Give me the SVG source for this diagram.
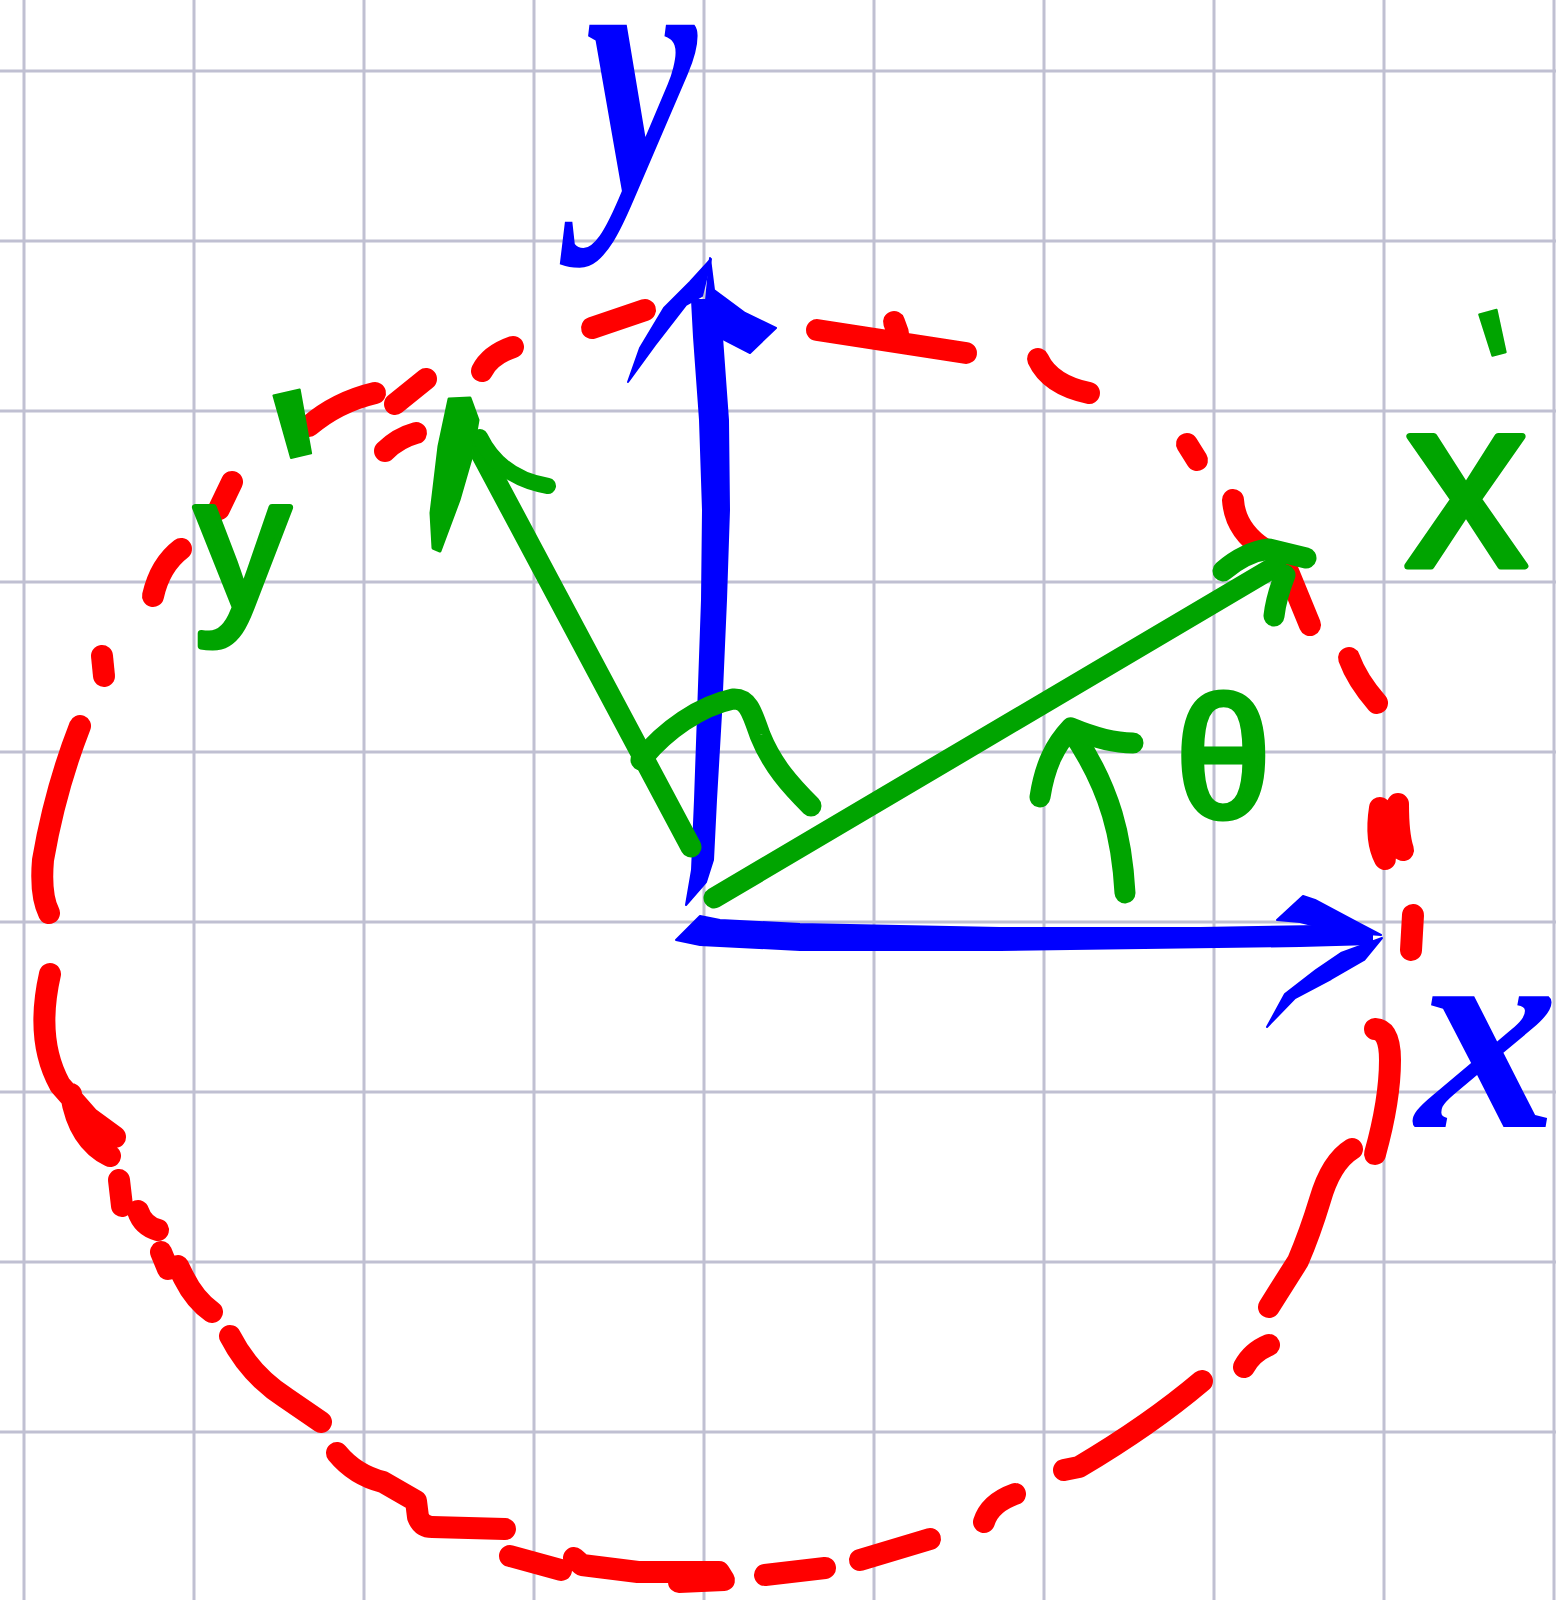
<svg xmlns="http://www.w3.org/2000/svg" width="1556" height="1600" viewBox="0 0 1556 1600">
<style>
.grid line{stroke:#c0c0d2;stroke-width:3}
.red path{fill:none;stroke:#ff0000;stroke-width:22;stroke-linecap:round;stroke-linejoin:round}
.blue{fill:#0000ff;stroke:#0000ff;stroke-width:2;stroke-linejoin:round}
.green path{fill:none;stroke:#00a400;stroke-width:21;stroke-linecap:round;stroke-linejoin:round}
.green .fill{fill:#00a400;stroke:#00a400;stroke-width:3}
.glabel{font-family:"Liberation Sans",Arial,sans-serif;fill:#00a400;stroke:#00a400;stroke-width:7;stroke-linejoin:round}
.prime{stroke-width:2}
.blabel{font-family:"Liberation Serif","Times New Roman",serif;font-style:italic;font-weight:bold;fill:#0000ff}
</style>
<rect width="1556" height="1600" fill="#ffffff"/>
<g id="grid" class="grid">
<line x1="24" y1="0" x2="24" y2="1600"/><line x1="194" y1="0" x2="194" y2="1600"/><line x1="364" y1="0" x2="364" y2="1600"/><line x1="534" y1="0" x2="534" y2="1600"/><line x1="704" y1="0" x2="704" y2="1600"/><line x1="874" y1="0" x2="874" y2="1600"/><line x1="1044" y1="0" x2="1044" y2="1600"/><line x1="1214" y1="0" x2="1214" y2="1600"/><line x1="1384" y1="0" x2="1384" y2="1600"/><line x1="1554" y1="0" x2="1554" y2="1600"/>
<line x1="0" y1="71" x2="1556" y2="71"/><line x1="0" y1="241" x2="1556" y2="241"/><line x1="0" y1="411" x2="1556" y2="411"/><line x1="0" y1="582" x2="1556" y2="582"/><line x1="0" y1="752" x2="1556" y2="752"/><line x1="0" y1="922" x2="1556" y2="922"/><line x1="0" y1="1092" x2="1556" y2="1092"/><line x1="0" y1="1262" x2="1556" y2="1262"/><line x1="0" y1="1432" x2="1556" y2="1432"/>
</g>
<g id="circle" class="red">
<path d="M592,328 L645,310"/>
<path d="M482,371 Q490,355 513,347"/>
<path d="M395,404 L426,379"/>
<path d="M309,426 Q337,402 375,393"/>
<path d="M385,451 Q398,438 416,433"/>
<path d="M219,509 L232,482"/>
<path d="M153,596 Q160,565 181,549"/>
<path d="M102,656 L104,676"/>
<path d="M80,726 Q55,790 43,860 Q40,895 49,913"/>
<path d="M50,974 Q35,1040 60,1085 L89,1118 L115,1137 M71,1094 Q78,1140 110,1156"/>
<path d="M119,1180 L122,1206 M138,1211 Q143,1226 158,1230"/>
<path d="M161,1252 L168,1269 L178,1266 L184,1278 Q195,1300 212,1312"/>
<path d="M230,1336 Q250,1375 286,1398 L321,1422"/>
<path d="M337,1453 Q355,1475 383,1482 L416,1501 L418,1517 Q422,1527 432,1527 L505,1529"/>
<path d="M510,1556 L561,1570"/>
<path d="M574,1558 L582,1565 L638,1572 L719,1572 L724,1580 L679,1582"/>
<path d="M765,1575 L825,1568"/>
<path d="M860,1560 L930,1539"/>
<path d="M984,1522 Q990,1503 1015,1494"/>
<path d="M1064,1470 L1079,1467 Q1150,1425 1202,1381"/>
<path d="M1244,1367 Q1252,1352 1269,1345"/>
<path d="M1269,1307 L1298,1261 Q1310,1233 1320,1200 Q1331,1162 1352,1149"/>
<path d="M1375,1154 Q1390,1100 1390,1060 Q1390,1030 1375,1029"/>
<path d="M1413,915 L1411,950"/>
<path d="M1380,808 Q1375,840 1385,859 M1398,804 Q1398,835 1403,850"/>
<path d="M1349,658 Q1357,680 1377,703"/>
<path d="M1287,569 L1310,625"/>
<path d="M1233,500 Q1235,530 1264,549"/>
<path d="M1187,444 L1197,460"/>
<path d="M1038,359 Q1050,385 1089,393"/>
<path d="M817,330 L966,353 M894,322 L898,333"/>
</g>
<g id="axis-y" class="blue">
<path d="M686,905 L692,870 L695,800 L698,714 L702,600 L703,510 L700,420 L694,337 L692,300 L718,300 L722,337 L728,420 L729,510 L726,600 L721,714 L716,800 L713,860 L706,882 Z"/>
<path d="M710,258 L714,290 L745,313 L776,328 L750,353 L719,337 L706,300 Z"/>
<path d="M711,259 L690,282 L664,308 L640,348 L628,382 L655,345 L686,305 L702,296 Z"/>
</g>
<g id="axis-x" class="blue">
<path d="M676,940 L700,916 L720,920 L800,924 L1000,928 L1200,928 L1320,926 L1372,931 L1372,944 L1300,946 L1000,950 L800,950 L700,945 Z"/>
<path d="M1277,920 L1303,896 L1315,900 L1360,924 L1381,935 L1340,932 L1300,922 Z"/>
<path d="M1382,938 L1364,960 L1331,979 L1295,998 L1267,1027 L1285,994 L1316,970 L1341,953 Z"/>
</g>
<g id="axis-x-prime" class="green">
<path d="M714,898 L1276,566"/>
<path d="M1223,571 Q1245,552 1269,549 L1306,558"/>
<path d="M1285,575 Q1276,598 1274,616"/>
</g>
<g id="axis-y-prime" class="green">
<path d="M691,847 L474,440"/>
<path class="fill" d="M449,399 L470,398 L478,420 L472,455 L459,500 L440,551 L433,548 L431,513 L439,446 Z"/>
<path d="M480,437 Q500,478 548,486" style="stroke-width:16"/>
</g>
<g id="right-angle" class="green">
<path d="M641,760 C665,730 700,706 733,699 C748,698 752,712 760,735 C772,765 790,785 811,806"/>
</g>
<g id="theta-arc" class="green">
<path d="M1125,893 C1122,840 1112,790 1071,730"/>
<path d="M1040,797 C1045,765 1055,745 1071,728 C1095,738 1115,743 1133,743"/>
</g>
<g id="labels">
<text class="blabel" transform="translate(585,190) scale(0.7,1)" font-size="360">y</text>
<text class="blabel" x="1416" y="1127" font-size="285">x</text>
<text class="glabel" x="1405" y="566" font-size="245">x<tspan class="prime" x="1505" y="450" font-size="200" rotate="-15">'</tspan></text>
<text class="glabel" x="195" y="608" font-size="190">y<tspan class="prime" x="305" y="600" font-size="300" rotate="-13">'</tspan></text>
<text class="glabel" x="1176" y="817" font-size="170">θ</text>
</g>
</svg>
